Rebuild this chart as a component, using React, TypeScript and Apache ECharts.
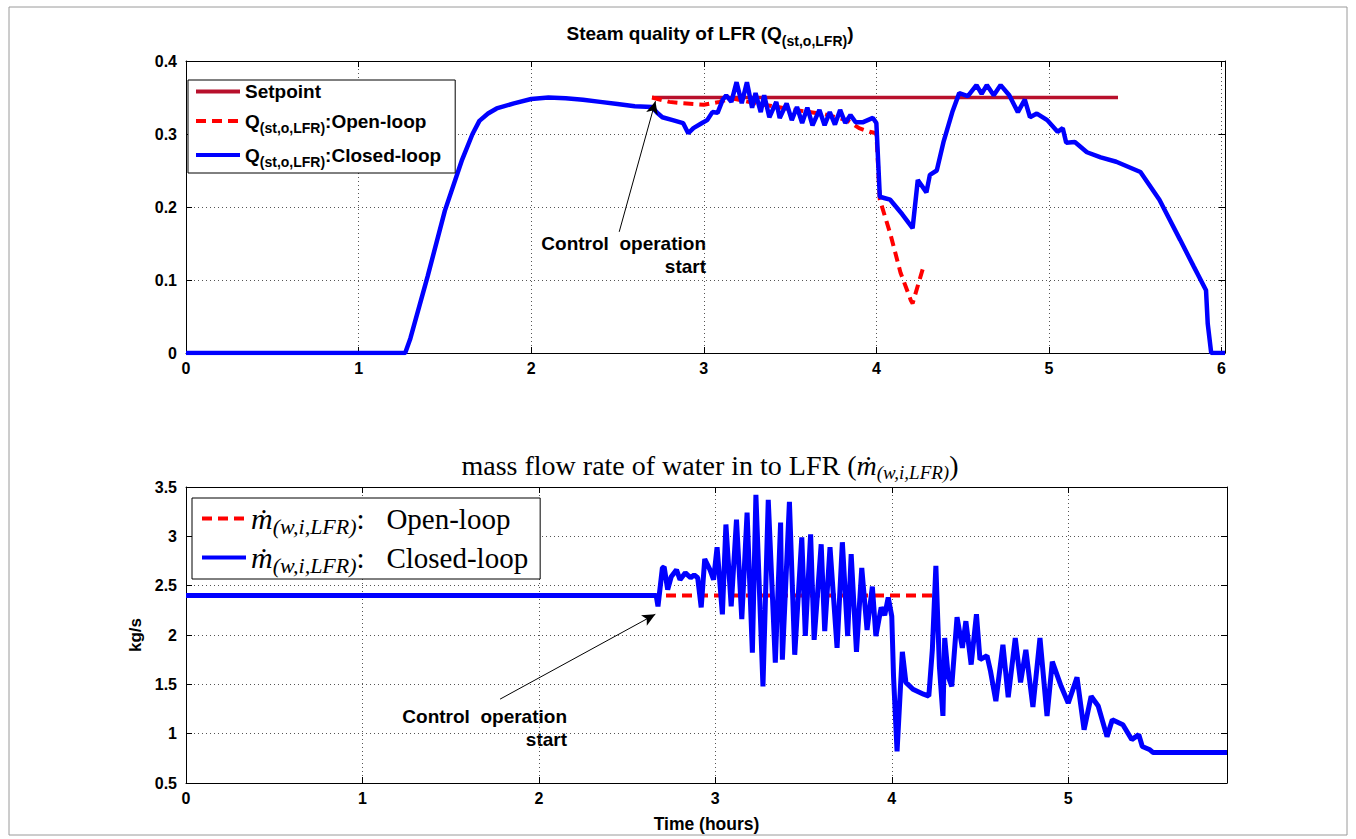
import React, { useEffect, useRef } from 'react';
import * as echarts from 'echarts';

// ---------- tick values ----------
const topXTicks = [0, 1, 2, 3, 4, 5, 6];
const topYTicks = [0, 0.1, 0.2, 0.3, 0.4];
const botXTicks = [0, 1, 2, 3, 4, 5];
const botYTicks = [0.5, 1, 1.5, 2, 2.5, 3, 3.5];
const topXMax = 6.02;
const botXMax = 5.9;

// ---------- top panel: steam quality ----------
const qSetpoint = [[2.7, 0.35], [5.4, 0.35]];

const qOpenLoop = [
  [2.7, 0.35], [2.75, 0.347], [2.8, 0.344], [2.88, 0.342], [3.0, 0.34], [3.09, 0.344],
  [3.16, 0.349], [3.3, 0.342], [3.5, 0.334], [3.7, 0.327], [3.83, 0.319], [3.9, 0.308],
  [3.96, 0.303], [4.0, 0.301], [4.02, 0.21], [4.08, 0.164], [4.14, 0.11], [4.2, 0.072],
  [4.21, 0.068], [4.27, 0.116],
];

const qClosedLoop = [
  [0, 0], [1.27, 0], [1.3, 0.02], [1.4, 0.105], [1.5, 0.195], [1.6, 0.265], [1.66, 0.3],
  [1.7, 0.318], [1.75, 0.328], [1.8, 0.335], [1.9, 0.342], [2.0, 0.348], [2.1, 0.35],
  [2.2, 0.349], [2.3, 0.347], [2.4, 0.344], [2.5, 0.341], [2.6, 0.338], [2.7, 0.337],
  [2.73, 0.329], [2.76, 0.323], [2.82, 0.319], [2.88, 0.315], [2.91, 0.301], [2.94, 0.308],
  [2.99, 0.315], [3.02, 0.319], [3.05, 0.33], [3.08, 0.329], [3.11, 0.347], [3.13, 0.353],
  [3.16, 0.344], [3.19, 0.371], [3.22, 0.342], [3.25, 0.371], [3.28, 0.336], [3.3, 0.356],
  [3.33, 0.33], [3.35, 0.353], [3.38, 0.323], [3.42, 0.344], [3.44, 0.322], [3.48, 0.342],
  [3.51, 0.319], [3.54, 0.337], [3.57, 0.315], [3.6, 0.336], [3.63, 0.312], [3.67, 0.333],
  [3.7, 0.312], [3.73, 0.33], [3.76, 0.313], [3.79, 0.333], [3.82, 0.315], [3.85, 0.326],
  [3.88, 0.316], [3.92, 0.316], [3.98, 0.322], [4.0, 0.315], [4.02, 0.214], [4.05, 0.212],
  [4.08, 0.21], [4.15, 0.19], [4.21, 0.171], [4.24, 0.237], [4.29, 0.22], [4.31, 0.244],
  [4.35, 0.25], [4.39, 0.29], [4.44, 0.33], [4.48, 0.356], [4.53, 0.352], [4.58, 0.367],
  [4.61, 0.355], [4.64, 0.367], [4.68, 0.353], [4.72, 0.367], [4.77, 0.353], [4.82, 0.33],
  [4.86, 0.347], [4.89, 0.323], [4.93, 0.328], [4.99, 0.319], [5.05, 0.303], [5.08, 0.308],
  [5.1, 0.288], [5.15, 0.289], [5.22, 0.275], [5.3, 0.268], [5.39, 0.262], [5.53, 0.248],
  [5.64, 0.21], [5.76, 0.155], [5.84, 0.118], [5.91, 0.086], [5.92, 0.04], [5.94, 0],
  [6.02, 0],
];

// ---------- bottom panel: water mass flow rate ----------
const mOpenLoop = [[0, 2.4], [4.23, 2.4]];

const mClosedLoop = [
  [0, 2.4], [2.665, 2.4], [2.675, 2.29], [2.7, 2.68], [2.71, 2.69], [2.73, 2.46], [2.75, 2.59],
  [2.78, 2.66], [2.8, 2.56], [2.83, 2.63], [2.86, 2.58], [2.88, 2.61], [2.9, 2.58], [2.92, 2.28],
  [2.94, 2.77], [2.97, 2.66], [2.99, 2.56], [3.01, 2.89], [3.04, 2.21], [3.06, 3.12], [3.09, 2.29],
  [3.12, 3.17], [3.15, 2.16], [3.18, 3.24], [3.21, 1.82], [3.23, 3.42], [3.27, 1.48], [3.3, 3.37],
  [3.34, 1.72], [3.37, 3.14], [3.38, 1.75], [3.42, 3.35], [3.45, 1.8], [3.49, 2.99], [3.51, 1.99],
  [3.54, 3.02], [3.56, 1.95], [3.6, 2.92], [3.62, 2.04], [3.65, 2.89], [3.69, 1.87], [3.72, 2.94],
  [3.75, 1.99], [3.77, 2.82], [3.8, 1.83], [3.83, 2.68], [3.86, 2.05], [3.89, 2.49], [3.91, 1.99],
  [3.94, 2.28], [3.96, 2.2], [3.98, 2.38], [4.0, 2.19], [4.01, 1.58], [4.03, 0.82], [4.06, 1.83],
  [4.08, 1.52], [4.12, 1.45], [4.18, 1.4], [4.21, 1.38], [4.23, 1.85], [4.25, 2.7], [4.27, 1.68],
  [4.29, 1.18], [4.3, 1.97], [4.32, 1.58], [4.34, 1.48], [4.37, 2.18], [4.4, 1.87], [4.42, 2.14],
  [4.45, 1.7], [4.48, 2.21], [4.5, 1.75], [4.54, 1.79], [4.56, 1.63], [4.59, 1.33], [4.63, 1.9],
  [4.66, 1.37], [4.7, 1.97], [4.73, 1.52], [4.76, 1.85], [4.8, 1.27], [4.84, 1.97], [4.88, 1.18],
  [4.91, 1.73], [4.96, 1.48], [5.0, 1.31], [5.05, 1.57], [5.09, 1.04], [5.13, 1.38], [5.17, 1.28],
  [5.22, 0.97], [5.25, 1.14], [5.31, 1.09], [5.36, 0.94], [5.4, 0.99], [5.42, 0.87], [5.46, 0.84],
  [5.48, 0.81], [5.9, 0.81],
];

// annotation arrows (data coordinates: tail -> head)
const topArrow = [[2.51, 0.166], [2.72, 0.345]];
const botArrow = [[1.78, 1.35], [2.66, 2.21]];

const SANS = '"Liberation Sans", Arial, Helvetica, sans-serif';
const SERIF = '"Liberation Serif", "DejaVu Serif", "Times New Roman", serif';

const tickFont = { fontFamily: SANS, fontWeight: 'bold' as const, fontSize: 16, color: '#000' };
const gridLine = { show: true, lineStyle: { color: '#555', width: 1, type: [1, 3] as any } };

function mainX(gridIndex: number, ticks: number[], max: number, extra: any = {}) {
  return {
    type: 'value', gridIndex, min: ticks[0], max, interval: ticks[1] - ticks[0],
    axisLine: { show: true, onZero: false, lineStyle: { color: '#000', width: 1 } },
    axisTick: { show: true, inside: true, length: 6, lineStyle: { color: '#000' } },
    axisLabel: {
      ...tickFont, margin: 7,
      formatter: (v: number) => (ticks.some((t) => Math.abs(t - v) < 1e-9) ? String(v) : ''),
    },
    splitLine: gridLine,
    ...extra,
  };
}
function mirrorX(gridIndex: number, ticks: number[], max: number) {
  return {
    type: 'value', gridIndex, position: 'top', min: ticks[0], max, interval: ticks[1] - ticks[0],
    axisLine: { show: true, onZero: false, lineStyle: { color: '#000', width: 1 } },
    axisTick: { show: true, inside: true, length: 6, lineStyle: { color: '#000' } },
    axisLabel: { show: false }, splitLine: { show: false },
  };
}
function mainY(gridIndex: number, ticks: number[], extra: any = {}) {
  return {
    type: 'value', gridIndex, min: ticks[0], max: ticks[ticks.length - 1], interval: ticks[1] - ticks[0],
    axisLine: { show: true, onZero: false, lineStyle: { color: '#000', width: 1 } },
    axisTick: { show: true, inside: true, length: 6, lineStyle: { color: '#000' } },
    axisLabel: { ...tickFont, margin: 9 },
    splitLine: gridLine,
    ...extra,
  };
}
function mirrorY(gridIndex: number, ticks: number[]) {
  return {
    type: 'value', gridIndex, position: 'right', min: ticks[0], max: ticks[ticks.length - 1], interval: ticks[1] - ticks[0],
    axisLine: { show: true, onZero: false, lineStyle: { color: '#000', width: 1 } },
    axisTick: { show: true, inside: true, length: 6, lineStyle: { color: '#000' } },
    axisLabel: { show: false }, splitLine: { show: false },
  };
}

const arrowLine = (pts: number[][]) => ({
  silent: true,
  symbol: ['none', 'arrow'],
  symbolSize: [9, 13],
  label: { show: false },
  lineStyle: { color: '#000', width: 1, type: 'solid' },
  itemStyle: { color: '#000' },
  data: [[{ coord: pts[0] }, { coord: pts[1] }]],
});

const topLegendText: Record<string, string> = {
  Setpoint: '{a|Setpoint}',
  'Q open': '{a|Q}{s|(st,o,LFR)}{a|:Open-loop}',
  'Q closed': '{a|Q}{s|(st,o,LFR)}{a|:Closed-loop}',
};
const botLegendText: Record<string, string> = {
  'm open': '{m|ṁ}{s|(w,i,LFR)}{t|:   Open-loop}',
  'm closed': '{m|ṁ}{s|(w,i,LFR)}{t|:   Closed-loop}',
};

export default function App() {
  const ref = useRef<HTMLDivElement>(null);
  useEffect(() => {
    if (!ref.current) return;
    const chart = echarts.init(ref.current, undefined, { renderer: 'svg' });
    const option: any = {
      animation: false,
      backgroundColor: '#fff',
      title: [
        {
          text: '{a|Steam quality of LFR (Q}{s|(st,o,LFR)}{a|)}',
          left: 705, top: 17, textAlign: 'center',
          textStyle: {
            rich: {
              a: { fontFamily: SANS, fontWeight: 'bold', fontSize: 19, color: '#000', lineHeight: 22 },
              s: { fontFamily: SANS, fontWeight: 'bold', fontSize: 14, color: '#000', lineHeight: 14, padding: [15, 0, 0, 0] },
            },
          },
        },
        {
          text: '{a|mass flow rate of water in to LFR (}{m|ṁ}{s|(w,i,LFR)}{a|)}',
          left: 705, top: 445, textAlign: 'center',
          textStyle: {
            rich: {
              a: { fontFamily: SERIF, fontWeight: 'normal', fontSize: 28, color: '#000', lineHeight: 30 },
              m: { fontFamily: SERIF, fontWeight: 'normal', fontStyle: 'italic', fontSize: 28, color: '#000', lineHeight: 30 },
              s: { fontFamily: SERIF, fontWeight: 'normal', fontStyle: 'italic', fontSize: 19, color: '#000', lineHeight: 18, padding: [14, 0, 0, 0] },
            },
          },
        },
      ],
      grid: [
        { left: 186, right: 131, top: 61, height: 292, containLabel: false },
        { left: 186, right: 129, top: 487, height: 296, containLabel: false },
      ],
      xAxis: [
        mainX(0, topXTicks, topXMax),
        mainX(1, botXTicks, botXMax, {
          name: 'Time (hours)', nameLocation: 'middle', nameGap: 32,
          nameTextStyle: { fontFamily: SANS, fontWeight: 'bold', fontSize: 17.5, color: '#000' },
        }),
        mirrorX(0, topXTicks, topXMax),
        mirrorX(1, botXTicks, botXMax),
      ],
      yAxis: [
        mainY(0, topYTicks),
        mainY(1, botYTicks, {
          name: 'kg/s', nameLocation: 'middle', nameGap: 42,
          nameTextStyle: { fontFamily: SANS, fontWeight: 'bold', fontSize: 17, color: '#000' },
        }),
        mirrorY(0, topYTicks),
        mirrorY(1, botYTicks),
      ],
      legend: [
        {
          data: ['Setpoint', 'Q open', 'Q closed'],
          orient: 'vertical', left: 188, top: 80,
          itemWidth: 44, itemHeight: 14, itemGap: 6, itemTextGap: 6,
          padding: [2, 14, 4, 6],
          borderColor: '#000', borderWidth: 1, backgroundColor: '#fff',
          selectedMode: false,
          itemStyle: { opacity: 0 },
          lineStyle: { width: 4 },
          formatter: (n: string) => topLegendText[n],
          textStyle: {
            rich: {
              a: { fontFamily: SANS, fontWeight: 'bold', fontSize: 19, color: '#000', lineHeight: 21 },
              s: { fontFamily: SANS, fontWeight: 'bold', fontSize: 14, color: '#000', lineHeight: 13, padding: [14, 0, 0, 0] },
            },
          },
        },
        {
          data: ['m open', 'm closed'],
          orient: 'vertical', left: 192, top: 498,
          itemWidth: 44, itemHeight: 14, itemGap: 2, itemTextGap: 4,
          padding: [2, 12, 3, 8],
          borderColor: '#000', borderWidth: 1, backgroundColor: '#fff',
          selectedMode: false,
          itemStyle: { opacity: 0 },
          lineStyle: { width: 4 },
          formatter: (n: string) => botLegendText[n],
          textStyle: {
            rich: {
              m: { fontFamily: SERIF, fontWeight: 'normal', fontStyle: 'italic', fontSize: 30, color: '#000', lineHeight: 28 },
              s: { fontFamily: SERIF, fontWeight: 'normal', fontStyle: 'italic', fontSize: 22, color: '#000', lineHeight: 18, padding: [15, 0, 0, 0] },
              t: { fontFamily: SERIF, fontWeight: 'normal', fontSize: 29, color: '#000', lineHeight: 28 },
            },
          },
        },
      ],
      graphic: [
        {
          type: 'rect', silent: true, z: -10,
          shape: { x: 9, y: 7, width: 1338, height: 828 },
          style: { fill: 'none', stroke: '#9a9a9a', lineWidth: 1 },
        },
        {
          type: 'text', x: 706, y: 232, silent: true,
          style: {
            text: 'Control  operation\nstart', align: 'right', verticalAlign: 'top',
            fontFamily: SANS, fontWeight: 'bold', fontSize: 19, lineHeight: 23, fill: '#000',
          },
        },
        {
          type: 'text', x: 567, y: 705, silent: true,
          style: {
            text: 'Control  operation\nstart', align: 'right', verticalAlign: 'top',
            fontFamily: SANS, fontWeight: 'bold', fontSize: 19, lineHeight: 23, fill: '#000',
          },
        },
      ],
      series: [
        {
          name: 'Setpoint', type: 'line', xAxisIndex: 0, yAxisIndex: 0, data: qSetpoint,
          symbol: 'none', lineStyle: { color: '#b8102c', width: 3.5 }, itemStyle: { color: '#b8102c' },
          markLine: arrowLine(topArrow),
        },
        {
          name: 'Q open', type: 'line', xAxisIndex: 0, yAxisIndex: 0, data: qOpenLoop,
          symbol: 'none', lineStyle: { color: '#ff0000', width: 4, type: [10, 6] }, itemStyle: { color: '#ff0000' },
        },
        {
          name: 'Q closed', type: 'line', xAxisIndex: 0, yAxisIndex: 0, data: qClosedLoop,
          symbol: 'none', lineStyle: { color: '#0000ff', width: 4.5 }, itemStyle: { color: '#0000ff' },
        },
        {
          name: 'm open', type: 'line', xAxisIndex: 1, yAxisIndex: 1, data: mOpenLoop,
          symbol: 'none', lineStyle: { color: '#ff0000', width: 4, type: [10, 6] }, itemStyle: { color: '#ff0000' },
          markLine: arrowLine(botArrow),
        },
        {
          name: 'm closed', type: 'line', xAxisIndex: 1, yAxisIndex: 1, data: mClosedLoop,
          symbol: 'none', lineStyle: { color: '#0000ff', width: 5 }, itemStyle: { color: '#0000ff' },
        },
      ],
    };
    chart.setOption(option);
    return () => chart.dispose();
  }, []);
  return (
    <div
      ref={ref}
      style={{ position: 'fixed', left: 0, top: 0, width: 1356, height: 839, background: '#fff' }}
    />
  );
}
